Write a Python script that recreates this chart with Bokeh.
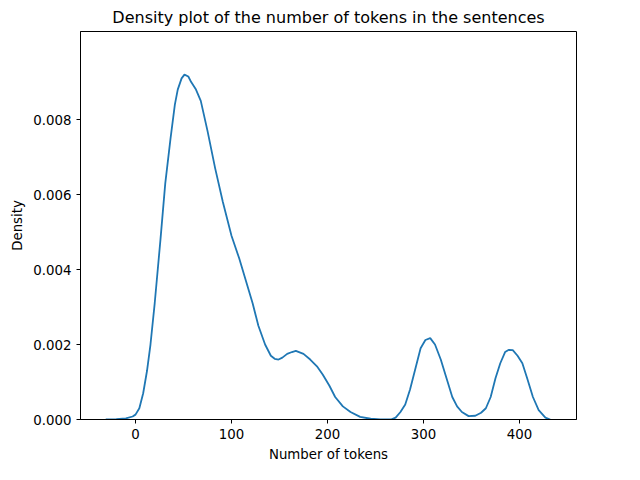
from bokeh.plotting import figure
from bokeh.embed import file_html
from bokeh.resources import INLINE
from bokeh.models import Range1d, FixedTicker

tokens = [-31, -20, -10, -3, 0, 4, 8, 12, 15.6, 20, 26, 31, 36.5, 41, 44, 48, 51, 55, 58, 63, 68, 75, 83, 91, 100, 108, 115, 122, 128, 135, 141, 145, 149, 153, 158, 163, 167, 175, 182, 189, 195, 202, 208, 216, 224, 234, 245, 255, 266, 271, 276, 281, 286, 292, 297, 302, 307, 312, 318, 324, 330, 335, 340, 347, 354, 360, 365, 370, 375, 380, 385, 389, 393, 398, 403, 408, 414, 420, 427, 432]
density = [0.0, 0.00001, 0.00003, 0.00008, 0.00013, 0.0003, 0.0007, 0.0013, 0.002, 0.0031, 0.0048, 0.0063, 0.0075, 0.0084, 0.0088, 0.0091, 0.0092, 0.00915, 0.009, 0.0088, 0.0085, 0.0077, 0.0067, 0.0058, 0.0049, 0.0043, 0.0037, 0.0031, 0.0025, 0.002, 0.0017, 0.00162, 0.0016, 0.00165, 0.00175, 0.0018, 0.00183, 0.00175, 0.0016, 0.00142, 0.0012, 0.0009, 0.0006, 0.00035, 0.0002, 0.00007, 0.00002, 0.000005, 0.0, 0.00005, 0.0002, 0.0004, 0.0008, 0.0014, 0.0019, 0.00212, 0.00217, 0.0020, 0.0016, 0.0011, 0.0006, 0.00035, 0.0002, 0.00009, 0.0001, 0.00018, 0.0003, 0.0006, 0.0011, 0.0015, 0.0018, 0.00186, 0.00185, 0.0017, 0.0015, 0.0011, 0.0006, 0.00025, 0.00005, 0.0]
xticks = [0, 100, 200, 300, 400]
yticks = [0.0, 0.002, 0.004, 0.006, 0.008]

p = figure(width=624, height=464, output_backend="svg", toolbar_location=None,
           title="Density plot of the number of tokens in the sentences",
           x_range=Range1d(-57.3, 459.4), y_range=Range1d(0, 0.01035),
           min_border_left=80, min_border_right=48, min_border_top=25, min_border_bottom=37)
p.line(tokens, density, line_color="#1f77b4", line_width=1.8)
p.title.align = "center"
p.title.text_font = "DejaVu Sans"
p.title.text_font_style = "normal"
p.title.text_font_size = "12pt"
p.title.text_color = "black"
p.xgrid.visible = False
p.ygrid.visible = False
p.outline_line_color = "black"
p.outline_line_alpha = 1
for ax in (p.xaxis, p.yaxis):
    ax.major_label_text_font = "DejaVu Sans"
    ax.major_label_text_font_size = "10pt"
    ax.major_label_text_color = "black"
    ax.axis_label_text_font = "DejaVu Sans"
    ax.axis_label_text_font_size = "10pt"
    ax.axis_label_text_font_style = "normal"
    ax.axis_label_text_color = "black"
    ax.axis_line_color = "black"
    ax.major_tick_line_color = "black"
    ax.minor_tick_line_color = None
    ax.major_tick_out = 4
    ax.major_tick_in = 0
p.xaxis.ticker = FixedTicker(ticks=xticks)
p.yaxis.ticker = FixedTicker(ticks=yticks)
p.yaxis.major_label_overrides = {t: f"{t:.3f}" for t in yticks}
p.xaxis.axis_label = "Number of tokens"
p.yaxis.axis_label = "Density"
open("out.html", "w").write(file_html(p, INLINE))
